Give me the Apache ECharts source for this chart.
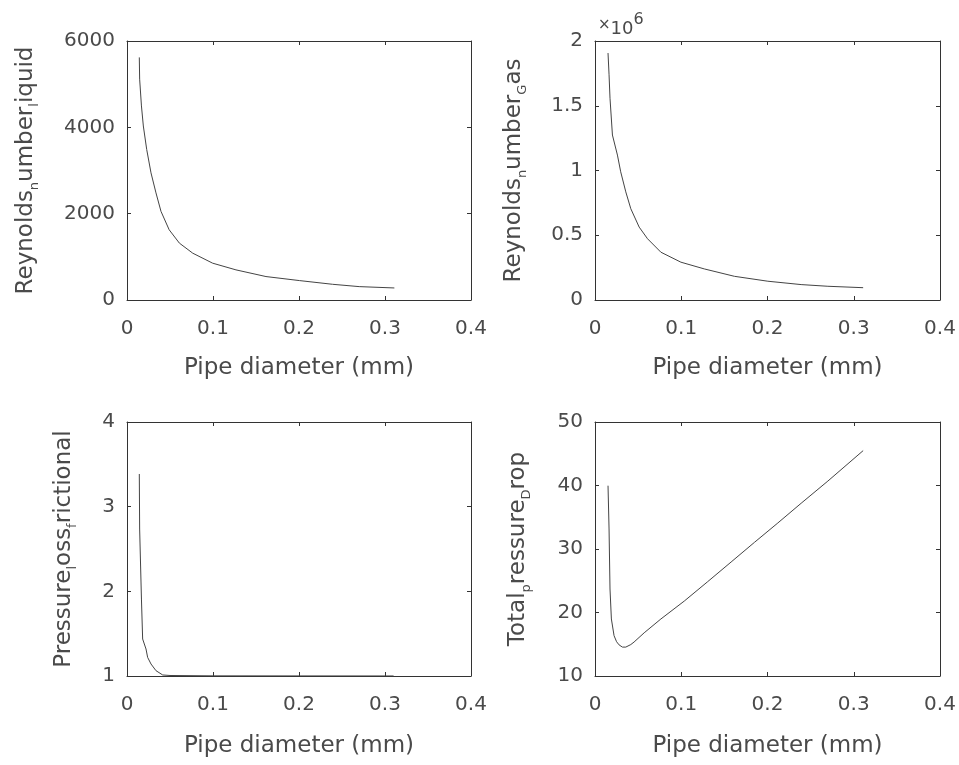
<!DOCTYPE html>
<html>
<head>
<meta charset="utf-8">
<script src="https://cdn.jsdelivr.net/npm/echarts@6/dist/echarts.min.js"></script>
<style>
html,body{margin:0;padding:0;background:#fff;}
#c{width:959px;height:765px;}
</style>
</head>
<body>
<div id="c"></div>
<script>
// Top-left: Reynolds number liquid
const xLiquid = [0.0143,0.0147,0.0168,0.0190,0.0229,0.0279,0.0337,0.0395,0.049,0.0609,0.0764,0.0996,0.1267,0.1616,0.2004,0.239,0.270,0.3109];
const yLiquid = [5620,5116,4496,4031,3488,2946,2481,2054,1628,1318,1085,853,698,543,450,364,310,279];
// Top-right: Reynolds number gas (x10^6)
const xGas = [0.0151,0.0163,0.0174,0.0202,0.0260,0.0298,0.0357,0.0415,0.0512,0.0609,0.0764,0.0996,0.1267,0.1616,0.2004,0.239,0.270,0.3109];
const yGas = [1.907,1.739,1.558,1.274,1.119,0.990,0.835,0.705,0.563,0.473,0.369,0.292,0.240,0.183,0.145,0.119,0.106,0.095];
// Bottom-left: frictional pressure loss
const xFric = [0.0143,0.0147,0.0168,0.0182,0.0221,0.0240,0.0279,0.0337,0.0415,0.05,0.1,0.2,0.31];
const yFric = [3.386,2.736,1.909,1.437,1.319,1.220,1.142,1.063,1.012,1.006,1.002,1.001,1.0005];
// Bottom-right: total pressure drop
const xTotal = [0.0151,0.0163,0.0174,0.0190,0.0221,0.0250,0.0279,0.0318,0.0357,0.0415,0.0453,0.057,0.0764,0.1035,0.1306,0.1578,0.1849,0.212,0.239,0.270,0.3109];
const yTotal = [39.97,33.15,23.70,18.98,16.35,15.40,14.90,14.55,14.55,14.95,15.35,16.80,18.98,21.80,24.85,27.95,31.05,34.10,37.20,40.70,45.49];

const xTicks = [0, 0.4, 0.1];
const yTicks = [[0,6000,2000],[0,2,0.5],[1,4,1],[10,50,10]];
const yNames = ['Reynolds{s|n}umber{s|l}iquid','Reynolds{s|n}umber{s|G}as','Pressure{s|l}oss{s|f}rictional','Total{s|p}ressure{s|D}rop'];
const xName = 'Pipe diameter (mm)';

const FONT = 'DejaVu Sans';
const TXT = '#4a4a4a';
const AX = '#333';

const grids = [
  {left:127, top:41, width:344, height:259},
  {left:595, top:41, width:345, height:259},
  {left:127, top:422, width:344, height:254},
  {left:595, top:422, width:345, height:254}
];
const yGaps = [86, 66, 48, 62];
const xGaps = [57, 57, 59, 59];
const series = [[xLiquid,yLiquid],[xGas,yGas],[xFric,yFric],[xTotal,yTotal]];

const xAxis = [], yAxis = [], ser = [];
grids.forEach((g, i) => {
  const base = {
    type:'value', gridIndex:i,
    axisLine:{show:true, onZero:false, lineStyle:{color:AX, width:1}},
    axisTick:{show:true, inside:true, length:4, lineStyle:{color:AX}},
    splitLine:{show:false}
  };
  xAxis.push(Object.assign({}, base, {
    min:xTicks[0], max:xTicks[1], interval:xTicks[2], position:'bottom',
    axisLabel:{fontFamily:FONT, fontSize:20, color:TXT, margin:19, formatter:v => String(v)},
    name:xName, nameLocation:'middle', nameGap:xGaps[i],
    nameTextStyle:{fontFamily:FONT, fontSize:23, color:TXT}
  }));
  xAxis.push(Object.assign({}, base, {
    min:xTicks[0], max:xTicks[1], interval:xTicks[2], position:'top',
    axisLabel:{show:false}
  }));
  const yt = yTicks[i];
  yAxis.push(Object.assign({}, base, {
    min:yt[0], max:yt[1], interval:yt[2], position:'left',
    axisLabel:{fontFamily:FONT, fontSize:20, color:TXT, margin:12, formatter:v => String(v)},
    name:yNames[i], nameLocation:'middle', nameGap:yGaps[i], nameRotate:90,
    nameTextStyle:{fontFamily:FONT, fontSize:23, color:TXT, lineHeight:30,
      rich:{s:{fontFamily:FONT, fontSize:13, color:TXT, lineHeight:12, verticalAlign:'bottom'}}}
  }));
  yAxis.push(Object.assign({}, base, {
    min:yt[0], max:yt[1], interval:yt[2], position:'right',
    axisLabel:{show:false}
  }));
  const [xs, ys] = series[i];
  ser.push({
    type:'line', xAxisIndex:2*i, yAxisIndex:2*i, showSymbol:false, symbol:'none',
    smooth:false,
    lineStyle:{color:'#444', width:1},
    data: xs.map((x, k) => [x, ys[k]])
  });
});

const chart = echarts.init(document.getElementById('c'));
chart.setOption({
  backgroundColor:'#fff',
  animation:false,
  grid:grids,
  xAxis:xAxis,
  yAxis:yAxis,
  series:ser,
  graphic:[{
    type:'text', left:598, top:12,
    style:{text:'×{n|10}{p|6}', fill:TXT, font:'15px DejaVu Sans',
      rich:{n:{fontFamily:FONT, fontSize:18, fill:TXT, lineHeight:26, verticalAlign:'bottom'},
            p:{fontFamily:FONT, fontSize:16, fill:TXT, lineHeight:18, verticalAlign:'top'}}}
  }]
});
</script>
</body>
</html>
